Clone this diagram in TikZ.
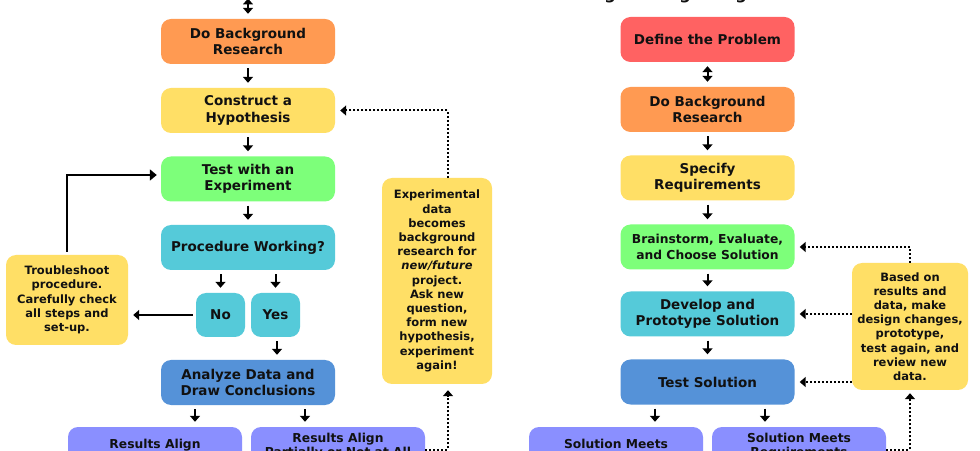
\documentclass[tikz,border=0pt]{standalone}
\usepackage{fontspec}
\setmainfont{DejaVu Sans}
\usetikzlibrary{arrows.meta,calc}
\definecolor{cOrange}{HTML}{FF9A52}
\definecolor{cYellow}{HTML}{FFDF66}
\definecolor{cGreen}{HTML}{7DFF7A}
\definecolor{cCyan}{HTML}{55CAD9}
\definecolor{cBlue}{HTML}{5592D8}
\definecolor{cPurple}{HTML}{8A8FFF}
\definecolor{cRed}{HTML}{FF6262}
\definecolor{txt}{HTML}{111111}
\begin{document}
\begin{tikzpicture}[x=1pt,y=1pt,
  box/.style={rounded corners=10pt, inner sep=0pt, align=center, text=txt},
  mainbox/.style={box, minimum width=174pt, minimum height=45pt, font=\fontsize{13.5}{16.5}\selectfont\bfseries},
  smallbox/.style={box, fill=cYellow, font=\fontsize{11.5}{14.2}\selectfont\bfseries},
  endbox/.style={box, fill=cPurple, minimum width=174pt, minimum height=45pt, font=\fontsize{12.3}{14.5}\selectfont\bfseries},
  onebox/.style={endbox, text height=10pt, text depth=13pt},
  twobox/.style={endbox, text height=24.5pt, text depth=10.5pt},
  tip/.style={-{Triangle[length=6pt,width=10pt]}},
  arr/.style={tip, line width=2pt, shorten <=4pt, shorten >=5pt},
  dbl/.style={{Triangle[length=6pt,width=10pt]}-{Triangle[length=6pt,width=10pt]}, line width=2pt, shorten <=4pt, shorten >=5pt},
  dots/.style={tip, line width=2pt, dash pattern=on 2pt off 2pt, shorten >=5pt},
  loopline/.style={-{Triangle[length=7pt,width=11pt]}, line width=2.4pt, shorten <=3pt, shorten >=4pt}
]
\useasboundingbox (0,0) rectangle (980,450);
\fill[white] (0,0) rectangle (980,450);
\clip (0,0) rectangle (980,450);

% title (mostly outside the visible area)
\node[anchor=base, font=\fontsize{16}{19}\selectfont\bfseries, text=txt] (title) at (708,450.6) {Engineering Design Process};

% ---------- left column ----------
\coordinate (askq) at (248,451.5);
\node[mainbox, fill=cOrange] (bgL) at (248,408.5) {Do Background\\Research};
\node[mainbox, fill=cYellow] (hyp) at (248,339.5) {Construct a\\Hypothesis};
\node[mainbox, fill=cGreen] (test) at (248,271) {Test with an\\Experiment};
\node[mainbox, fill=cCyan] (proc) at (248,202.5) {Procedure Working?};
\node[mainbox, fill=cCyan, minimum width=49pt, minimum height=44pt] (no) at (220.5,135) {No};
\node[mainbox, fill=cCyan, minimum width=49pt, minimum height=44pt] (yes) at (275.5,135) {Yes};
\node[mainbox, fill=cBlue] (analyze) at (248,67.5) {Analyze Data and\\Draw Conclusions};
\node[onebox] (res1) at (155,0.5) {Results Align};
\node[twobox] (res2) at (338,0.5) {Results Align\\Partially or Not at All};
\node[smallbox, minimum width=122pt, minimum height=90pt] (trouble) at (67,150) {Troubleshoot\\procedure.\\Carefully check\\all steps and\\set-up.};
\node[smallbox, minimum width=110pt, minimum height=206pt] (exp) at (437,169) {Experimental\\data\\becomes\\background\\research for\\\textit{new/future}\\project.\\Ask new\\question,\\form new\\hypothesis,\\experiment\\again!};

\draw[dbl, shorten <=0pt] (askq) -- (bgL.north);
\draw[arr] (bgL) -- (hyp);
\draw[arr] (hyp) -- (test);
\draw[arr] (test) -- (proc);
\draw[arr] (proc.south -| no.north) -- (no.north);
\draw[arr] (proc.south -| yes.north) -- (yes.north);
\draw[arr] ([xshift=1.5pt]yes.south) -- ([xshift=1.5pt]yes.south |- analyze.north);
\draw[arr] ([xshift=-53pt]analyze.south) -- ([xshift=-53pt]analyze.south |- res1.north);
\draw[arr] ([xshift=57pt]analyze.south) -- ([xshift=57pt]analyze.south |- res2.north);
\draw[arr, shorten <=3pt] (no.west) -- (trouble.east |- no.west);
\draw[loopline] (trouble.north) |- ([yshift=4pt]test.west);
\draw[dots] ([xshift=11pt]exp.north) |- (hyp.east);
\draw[dots, shorten >=6pt] (res2.east) -| ([xshift=11pt]exp.south);

% ---------- right column ----------
\node[mainbox, fill=cRed] (define) at (707.5,410.5) {Define the Problem};
\node[mainbox, fill=cOrange] (bgR) at (707.5,340.5) {Do Background\\Research};
\node[mainbox, fill=cYellow] (spec) at (707.5,272) {Specify\\Requirements};
\node[mainbox, fill=cGreen, font=\fontsize{12.3}{16}\selectfont\bfseries] (brain) at (707.5,203) {Brainstorm, Evaluate,\\and Choose Solution};
\node[mainbox, fill=cCyan] (dev) at (707.5,136) {Develop and\\Prototype Solution};
\node[mainbox, fill=cBlue] (testS) at (707.5,68) {Test Solution};
\node[onebox] (sol1) at (616,0.5) {Solution Meets};
\node[twobox] (sol2) at (799,0.5) {Solution Meets\\Requirements};
\node[smallbox, minimum width=116pt, minimum height=127pt] (based) at (910,123.5) {Based on\\results and\\data, make\\design changes,\\prototype,\\test again, and\\review new\\data.};

\draw[dbl] (define) -- (bgR);
\draw[arr] (bgR) -- (spec);
\draw[arr] (spec) -- (brain);
\draw[arr] (brain) -- (dev);
\draw[arr] (dev) -- (testS);
\draw[arr] ([xshift=-52.5pt]testS.south) -- ([xshift=-52.5pt]testS.south |- sol1.north);
\draw[arr] ([xshift=57.5pt]testS.south) -- ([xshift=57.5pt]testS.south |- sol2.north);
\draw[dots] (based.north) |- (brain.east);
\draw[dots] (based.west |- dev.east) -- (dev.east);
\draw[dots] (based.west |- testS.east) -- (testS.east);
\draw[dots, shorten >=3pt] (sol2.east) -| (based.south);
\end{tikzpicture}
\end{document}
